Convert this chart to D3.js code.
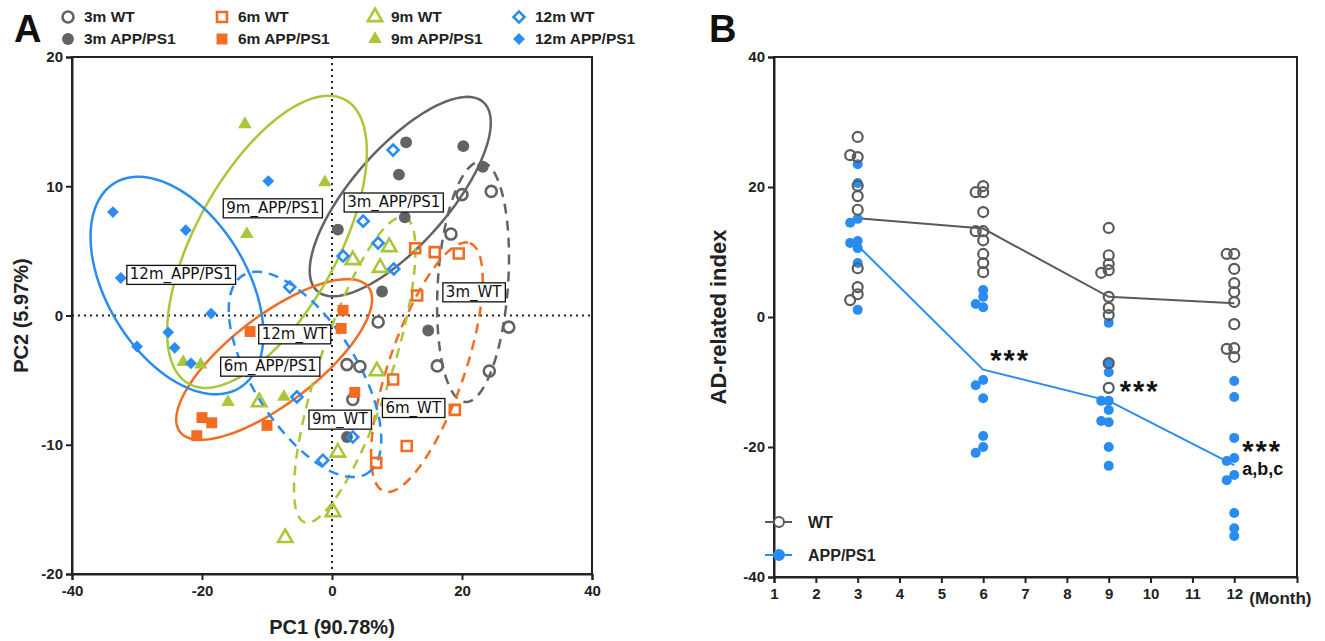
<!DOCTYPE html>
<html>
<head>
<meta charset="utf-8">
<script src="https://cdn.jsdelivr.net/npm/d3@7"></script>
<style>
  body { margin: 0; background: #fff; }
  text { font-family: "Liberation Sans", Arial, sans-serif; }
  .tick line { stroke: #222; stroke-width: 2; }
  .domain { stroke: #222; stroke-width: 2; }
</style>
</head>
<body>
<div id="chart"></div>
<script>
// ---- panel A : PCA scores (PC1, PC2) ----
var wt3m  = [[20.0,9.35],[24.5,9.6],[18.3,6.3],[27.2,-0.9],[24.2,-4.3],[16.2,-3.9],[7.1,-0.5],[2.3,-3.8],[4.3,-3.95],[3.2,-6.5]];
var app3m = [[11.4,13.4],[20.2,13.1],[10.3,10.9],[23.2,11.5],[11.2,7.6],[0.9,6.65],[7.7,1.86],[14.8,-1.16],[2.3,-9.4]];
var wt6m  = [[12.8,5.2],[15.8,4.9],[19.5,4.8],[13.1,1.55],[9.4,-4.95],[18.9,-7.3],[11.5,-10.1],[6.8,-11.4]];
var app6m = [[-12.6,-1.24],[-20,-7.9],[-18.5,-8.3],[-20.8,-9.3],[-10,-8.5],[1.7,0.4],[1.4,-1.0],[3.5,-5.95]];
var wt9m  = [[8.8,5.3],[7.4,3.7],[3.2,4.3],[6.9,-4.3],[0.9,-10.6],[0.15,-15.2],[-7.2,-17.2],[-11.2,-6.7]];
var app9m = [[-13.4,14.8],[-1.1,10.3],[-13.1,6.3],[-22.9,-3.6],[-20.2,-3.8],[-16,-6.7],[-7.4,-6.3]];
var wt12m  = [[9.4,12.8],[4.8,7.3],[7.1,5.6],[1.7,4.6],[9.5,3.6],[-6.5,2.2],[-5.4,-6.3],[-1.4,-11.2],[3.2,-9.4]];
var app12m = [[-33.7,8.0],[-22.5,6.6],[-9.8,10.4],[-32.5,2.9],[-18.6,0.15],[-30,-2.4],[-25.2,-1.3],[-24.2,-2.5],[-21.7,-3.7]];

// confidence ellipses: centre x, y, half axis u (dx, dy), half axis v (dx, dy), in PC units
var ell3mWT   = [21.7, 2.6, 1.2, 9.3, 5.4, -0.15];
var ell3mAPP  = [10.5, 9.2, 12.8, 7.3, 5.5, -2.5];
var ell6mWT   = [14.6, -4.0, 6.6, 9.6, 5.5, -0.97];
var ell6mAPP  = [-8.9, -3.4, 14.5, 5.6, 4.1, -2.7];
var ell9mWT   = [3.5, -4.2, 7.7, 11.8, 5.3, -0.87];
var ell9mAPP  = [-10, 5.7, 12, 11, 9.6, -2.6];
var ell12mWT  = [-4.15, -4.56, 9.6, -7.65, 6.75, 2.15];
var ell12mAPP = [-23.85, 2.32, 9.6, -7.93, 9.2, 2.82];

var groupNames = ["3m WT","3m APP/PS1","6m WT","6m APP/PS1","9m WT","9m APP/PS1","12m WT","12m APP/PS1"];
var groupTags  = ["3m_WT","3m_APP/PS1","6m_WT","6m_APP/PS1","9m_WT","9m_APP/PS1","12m_WT","12m_APP/PS1"];
// where each group tag sits (PC units)
var tagPos = [[21.8,1.85],[9.5,8.8],[12.5,-7.1],[-9.5,-3.9],[1.2,-8.0],[-9.1,8.35],[-5.8,-1.4],[-23.2,3.2]];

var pcTicksX = [-40,-20,0,20,40];
var pcTicksY = [-20,-10,0,10,20];

// ---- panel B : AD-related index ----
var months = [3, 6, 9, 12];
var monthTicks = [1,2,3,4,5,6,7,8,9,10,11,12];
var indexTicks = [-40,-20,0,20,40];
var wtIndex = [
  [27.7,24.6,24.9,20.2,18.6,16.5,7.5,4.6,3.5,2.6],
  [20.15,19.2,19.2,16.15,13.2,13.2,11.8,9.7,8.3,6.9],
  [13.7,9.5,8.15,7.2,6.8,3.1,1.4,0.3,-7.1,-10.9],
  [9.7,9.7,7.4,5.2,3.85,2.3,-1.1,-4.8,-4.9,-6.15]
];
var appIndex = [
  [23.5,20.6,15.1,14.5,11.7,11.4,10.6,8.3,1.1],
  [4.15,3.1,1.5,2.0,-9.7,-10.5,-12.5,-18.3,-20,-20.9],
  [-0.9,-7.2,-8.5,-12.9,-12.9,-14.3,-16.2,-16,-20,-22.9],
  [-9.85,-12.3,-18.6,-21.7,-22.15,-24.3,-25.1,-30.15,-32.5,-33.7]
];
var wtMean  = [15.2, 13.6, 3.1, 2.1];
var appMean = [11.0, -8.1, -12.9, -22.8];
var signif = ["", "***", "***", "***"];

var grey = "#636363", orange = "#f26d21", green = "#a8c83a", blue = "#2a8cf0";

var svg = d3.select("#chart").append("svg")
  .attr("width", 1325).attr("height", 641);

function styleTicks(g) {
  g.selectAll(".tick text")
    .style("font-size", "15px").style("font-weight", "bold").attr("fill", "#222");
}
var plain = function(d) { return String(d); };

// =================== panel A ===================
var x = d3.scaleLinear().domain([-40, 40]).range([72, 592]);
var y = d3.scaleLinear().domain([-20, 20]).range([574, 57]);

var gA = svg.append("g");

gA.append("rect")
  .attr("x", x(-40)).attr("y", y(20))
  .attr("width", x(40) - x(-40)).attr("height", y(-20) - y(20))
  .attr("fill", "none").attr("stroke", "#222").attr("stroke-width", 2);

gA.append("line")
  .attr("x1", x(0)).attr("x2", x(0)).attr("y1", y(20)).attr("y2", y(-20))
  .attr("stroke", "#222").attr("stroke-width", 2).attr("stroke-dasharray", "2,4");
gA.append("line")
  .attr("x1", x(-40)).attr("x2", x(40)).attr("y1", y(0)).attr("y2", y(0))
  .attr("stroke", "#222").attr("stroke-width", 2).attr("stroke-dasharray", "2,4");

gA.append("g")
  .attr("transform", "translate(0," + y(-20) + ")")
  .call(d3.axisBottom(x).tickValues(pcTicksX).tickFormat(plain).tickSize(6).tickPadding(5))
  .call(styleTicks);
gA.append("g")
  .attr("transform", "translate(" + x(-40) + ",0)")
  .call(d3.axisLeft(y).tickValues(pcTicksY).tickFormat(plain).tickSize(6).tickPadding(3))
  .call(styleTicks);

gA.append("text")
  .attr("x", x(0)).attr("y", 634)
  .attr("text-anchor", "middle")
  .style("font-size", "20px").style("font-weight", "bold").attr("fill", "#222")
  .text("PC1 (90.78%)");
gA.append("text")
  .attr("transform", "translate(28," + y(0) + ") rotate(-90)")
  .attr("text-anchor", "middle")
  .style("font-size", "20px").style("font-weight", "bold").attr("fill", "#222")
  .text("PC2 (5.97%)");

// ellipses
var ellipses = [ell3mWT, ell3mAPP, ell6mWT, ell6mAPP, ell9mWT, ell9mAPP, ell12mWT, ell12mAPP];
var ellColors = [grey, grey, orange, orange, green, green, blue, blue];
var line = d3.line();
ellipses.forEach(function(e, i) {
  var pts = d3.range(0, 101).map(function(k) {
    var t = k / 100 * 2 * Math.PI;
    return [x(e[0] + e[2] * Math.cos(t) + e[4] * Math.sin(t)),
            y(e[1] + e[3] * Math.cos(t) + e[5] * Math.sin(t))];
  });
  gA.append("path")
    .attr("d", line(pts))
    .attr("fill", "none")
    .attr("stroke", ellColors[i])
    .attr("stroke-width", 2.5)
    .attr("stroke-dasharray", i % 2 === 0 ? "10,7" : null);
});

// markers
var groups = [wt3m, app3m, wt6m, app6m, wt9m, app9m, wt12m, app12m];
var shapes = [d3.symbolCircle, d3.symbolCircle, d3.symbolSquare, d3.symbolSquare,
              d3.symbolTriangle, d3.symbolTriangle, d3.symbolSquare, d3.symbolSquare];
var sizes = [95, 110, 100, 120, 90, 80, 60, 70];
var turn = [0, 0, 0, 0, 0, 0, 45, 45];

function marker(g, i, px, py) {
  var open = i % 2 === 0;
  g.append("path")
    .attr("d", d3.symbol().type(shapes[i]).size(sizes[i])())
    .attr("transform", "translate(" + px + "," + py + ") rotate(" + turn[i] + ")")
    .attr("fill", open ? "none" : ellColors[i])
    .attr("stroke", ellColors[i])
    .attr("stroke-width", open ? 2.6 : 0);
}

groups.forEach(function(pts, i) {
  pts.forEach(function(d) { marker(gA, i, x(d[0]), y(d[1])); });
});

// group tags
groupTags.forEach(function(t, i) {
  var tg = gA.append("g");
  var tx = tg.append("text")
    .attr("x", x(tagPos[i][0])).attr("y", y(tagPos[i][1]))
    .attr("text-anchor", "middle").attr("dy", "0.35em")
    .style("font-family", "'DejaVu Sans', sans-serif")
    .style("font-size", "15px").attr("fill", "#111")
    .text(t);
  var bb = tx.node().getBBox();
  tg.insert("rect", "text")
    .attr("x", bb.x - 3).attr("y", bb.y)
    .attr("width", bb.width + 6).attr("height", bb.height)
    .attr("fill", "#fff").attr("stroke", "#111").attr("stroke-width", 1.3);
});

// legend A
var legCols = [68, 222, 375, 519];
groupNames.forEach(function(n, i) {
  var col = Math.floor(i / 2), row = i % 2;
  var lx = legCols[col], ly = 17 + row * 22;
  marker(svg, i, lx, ly);
  svg.append("text")
    .attr("x", lx + 16).attr("y", ly).attr("dy", "0.35em")
    .style("font-size", "15.5px").style("font-weight", "bold").attr("fill", "#222")
    .text(n);
});

svg.append("text").attr("x", 14).attr("y", 42)
  .style("font-size", "38px").style("font-weight", "bold").attr("fill", "#111").text("A");

// =================== panel B ===================
var xb = d3.scaleLinear().domain([1, 13.5]).range([774, 1297]);
var yb = d3.scaleLinear().domain([-40, 40]).range([577, 57]);
var gB = svg.append("g");

gB.append("rect")
  .attr("x", xb(1)).attr("y", yb(40))
  .attr("width", xb(13.5) - xb(1)).attr("height", yb(-40) - yb(40))
  .attr("fill", "none").attr("stroke", "#222").attr("stroke-width", 2);

gB.append("g")
  .attr("transform", "translate(0," + yb(-40) + ")")
  .call(d3.axisBottom(xb).tickValues(monthTicks).tickFormat(plain).tickSize(6).tickPadding(5))
  .call(styleTicks);
gB.append("g")
  .attr("transform", "translate(" + xb(1) + ",0)")
  .call(d3.axisLeft(yb).tickValues(indexTicks).tickFormat(plain).tickSize(6).tickPadding(3))
  .call(styleTicks);

gB.append("text")
  .attr("x", xb(12) + 15).attr("y", yb(-40) + 27)
  .style("font-size", "17px").style("font-weight", "bold").attr("fill", "#222")
  .text("(Month)");
gB.append("text")
  .attr("transform", "translate(726," + yb(0) + ") rotate(-90)")
  .attr("text-anchor", "middle")
  .style("font-size", "22px").style("font-weight", "bold").attr("fill", "#222")
  .text("AD-related index");

var greyB = "#5a5a5a";
gB.append("path")
  .attr("d", d3.line().x(function(d, i) { return xb(months[i]); }).y(function(d) { return yb(d); })(wtMean))
  .attr("fill", "none").attr("stroke", greyB).attr("stroke-width", 2);
gB.append("path")
  .attr("d", d3.line().x(function(d, i) { return xb(months[i]); }).y(function(d) { return yb(d); })(appMean))
  .attr("fill", "none").attr("stroke", blue).attr("stroke-width", 2);

// simple swarm: keep points from stacking exactly at each month
function swarm(vals, cx) {
  var placed = [];
  var offs = [0, -7.5, 7.5, -15, 15, -22, 22];
  return vals.map(function(v) {
    var py = yb(v);
    for (var k = 0; k < offs.length; k++) {
      var px = cx + offs[k];
      var ok = placed.every(function(p) { return (p[0] - px) * (p[0] - px) + (p[1] - py) * (p[1] - py) >= 36; });
      if (ok) { placed.push([px, py]); return [px, py]; }
    }
    placed.push([cx, py]);
    return [cx, py];
  });
}

var starDx = [0, 7, 11, 8];
var starDy = [0, 0, 0, -4];
months.forEach(function(m, i) {
  swarm(appIndex[i], xb(m)).forEach(function(p) {
    gB.append("circle").attr("cx", p[0]).attr("cy", p[1]).attr("r", 5).attr("fill", blue);
  });
  swarm(wtIndex[i], xb(m)).forEach(function(p) {
    gB.append("circle").attr("cx", p[0]).attr("cy", p[1]).attr("r", 5)
      .attr("fill", "none").attr("stroke", greyB).attr("stroke-width", 2.2);
  });
  if (signif[i]) {
    gB.append("text")
      .attr("x", xb(m) + starDx[i]).attr("y", yb(appMean[i]) + starDy[i])
      .style("font-size", "29px").style("font-weight", "bold").attr("fill", "#111")
      .style("letter-spacing", "2px")
      .text(signif[i]);
  }
});
gB.append("text")
  .attr("x", xb(12) + 8).attr("y", yb(appMean[3]) + 10)
  .style("font-size", "18px").style("font-weight", "bold").attr("fill", "#111")
  .text("a,b,c");

// legend B
var legB = [["WT", greyB, false], ["APP/PS1", blue, true]];
legB.forEach(function(d, i) {
  var ly = 522 + i * 33;
  gB.append("line").attr("x1", 765).attr("x2", 792).attr("y1", ly).attr("y2", ly)
    .attr("stroke", d[1]).attr("stroke-width", 2);
  gB.append("circle").attr("cx", 779).attr("cy", ly).attr("r", 5)
    .attr("fill", d[2] ? d[1] : "#fff").attr("stroke", d[1]).attr("stroke-width", 2);
  gB.append("text").attr("x", 808).attr("y", ly).attr("dy", "0.35em")
    .style("font-size", "16px").style("font-weight", "bold").attr("fill", "#222")
    .text(d[0]);
});

svg.append("text").attr("x", 709).attr("y", 42)
  .style("font-size", "38px").style("font-weight", "bold").attr("fill", "#111").text("B");
</script>
</body>
</html>
